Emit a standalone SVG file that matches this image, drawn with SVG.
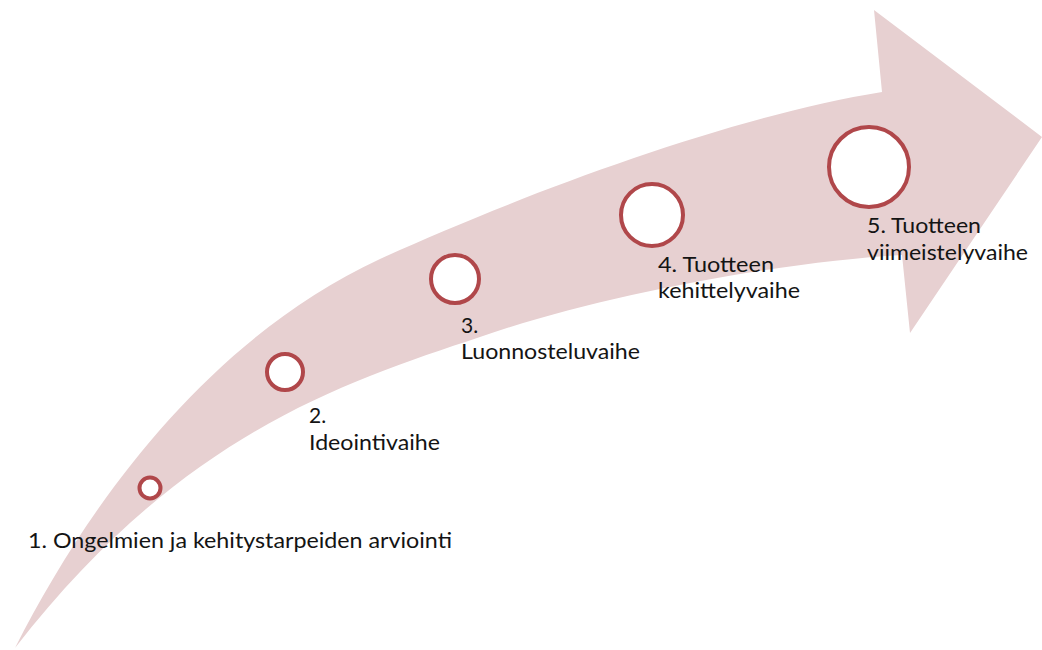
<svg xmlns="http://www.w3.org/2000/svg" width="1042" height="650" viewBox="0 0 1042 650">
  <style>
    .ring { fill: #ffffff; stroke: #b0474a; stroke-width: 4; }
    .lbl { font-family: Lato, "Liberation Sans", sans-serif; font-size: 21px; fill: #141414; }
  </style>
  <rect width="1042" height="650" fill="#ffffff"/>
  <g id="arrow">
    <path fill="#e7d0d1" d="M15,648 C90,500 210,338 380,259 C500,204 720,118 882,92 L874,10 L1042,137 L910,333 L902,255 C780,262 600,295 480,337 C342,383 180,435 15,648 Z"/>
  </g>
  <g id="connectors"></g>
  <g id="node1">
    <circle class="ring" cx="150" cy="488" r="10.5" stroke-width="3.5"/>
    <text class="lbl" x="28" y="548" textLength="424" lengthAdjust="spacingAndGlyphs">1. Ongelmien ja kehitystarpeiden arviointi</text>
  </g>
  <g id="node2">
    <circle class="ring" cx="285" cy="372" r="18"/>
    <text class="lbl" x="309" y="423">2.</text>
    <text class="lbl" x="309" y="450" textLength="131" lengthAdjust="spacingAndGlyphs">Ideointivaihe</text>
  </g>
  <g id="node3">
    <circle class="ring" cx="455" cy="279" r="24"/>
    <text class="lbl" x="461" y="333">3.</text>
    <text class="lbl" x="461" y="359" textLength="179" lengthAdjust="spacingAndGlyphs">Luonnosteluvaihe</text>
  </g>
  <g id="node4">
    <circle class="ring" cx="652" cy="215" r="31"/>
    <text class="lbl" x="658" y="272" textLength="116" lengthAdjust="spacingAndGlyphs">4. Tuotteen</text>
    <text class="lbl" x="658" y="298" textLength="142" lengthAdjust="spacingAndGlyphs">kehittelyvaihe</text>
  </g>
  <g id="node5">
    <circle class="ring" cx="869" cy="167" r="40"/>
    <text class="lbl" x="867" y="233" textLength="114" lengthAdjust="spacingAndGlyphs">5. Tuotteen</text>
    <text class="lbl" x="867" y="260" textLength="161" lengthAdjust="spacingAndGlyphs">viimeistelyvaihe</text>
  </g>
</svg>
